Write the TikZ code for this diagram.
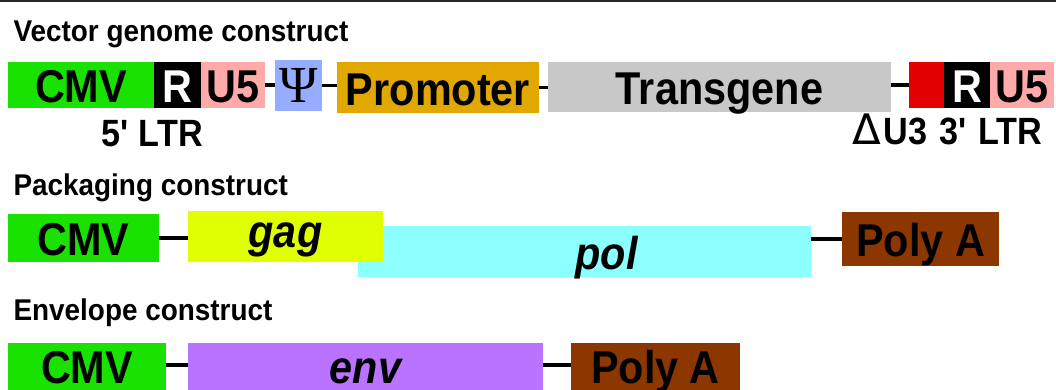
\documentclass[tikz,border=0pt]{standalone}
\usepackage{fontspec}
\setmainfont{Liberation Sans}
\newfontfamily\segsans{Liberation Sans}[FakeStretch=0.9]
\newfontfamily\headsans{Liberation Sans}[FakeStretch=0.93]
\newfontfamily\serifsym{Liberation Serif}
\newfontfamily\deltafont{DejaVu Sans}
\usepackage{tikz}
\definecolor{cmvgreen}{RGB}{26,226,0}
\definecolor{ltrpink}{RGB}{255,170,170}
\definecolor{psiblue}{RGB}{150,172,255}
\definecolor{promorange}{RGB}{224,168,0}
\definecolor{transgray}{RGB}{200,200,200}
\definecolor{ltrred}{RGB}{226,0,0}
\definecolor{gagyellow}{RGB}{224,255,0}
\definecolor{polcyan}{RGB}{140,255,255}
\definecolor{polyabrown}{RGB}{140,54,0}
\definecolor{envpurple}{RGB}{185,115,255}
\tikzset{x=1pt, y=-1pt,
    seg/.style={rectangle, inner sep=0pt, font=\segsans\fontsize{46}{46}\selectfont\bfseries,
        text height=35pt, text depth=0pt},
    gene/.style={seg, font=\segsans\fontsize{46}{46}\selectfont\bfseries\itshape},
    link/.style={draw, line width=3.5pt},
    heading/.style={anchor=base west, font=\headsans\fontsize{30}{30}\selectfont\bfseries},
    ltrlabel/.style={anchor=base, font=\segsans\fontsize{38}{38}\selectfont\bfseries}}

\begin{document}
\begin{tikzpicture}
    \useasboundingbox (0,0) rectangle (1056,389);
    \clip (0,0) rectangle (1056,389);
    \draw[line width=1.5pt, black!85] (0,0.75) -- (1056,0.75);
    % vector genome construct
    \node[heading] (vtitle) at (10,41) {Vector genome construct};
    \node[seg, fill=cmvgreen, minimum width=146, minimum height=46] (cmva) at (81,85) {CMV};
    \node[seg, fill=black, text=white, minimum width=47, minimum height=46] (ra) at (177.5,85) {R};
    \node[seg, fill=ltrpink, minimum width=64, minimum height=46] (u5a) at (233,85) {U5};
    \node[seg, fill=psiblue, minimum width=47, minimum height=51, text height=33pt, font=\serifsym\fontsize{52}{52}\selectfont] (psi) at (298.5,85.5) {Ψ};
    \node[seg, fill=promorange, minimum width=202, minimum height=51] (prom) at (438,87.5) {Promoter};
    \node[seg, fill=transgray, minimum width=343, minimum height=50] (trans) at (719.5,87) {Transgene};
    \node[seg, fill=ltrred, minimum width=35, minimum height=46] (du3) at (926.5,85) {};
    \node[seg, fill=black, text=white, minimum width=46, minimum height=46] (rb) at (967,85) {R};
    \node[seg, fill=ltrpink, minimum width=64, minimum height=46] (u5b) at (1022,85) {U5};
    \draw[link] (u5a.east) -- (u5a.east -| psi.west);
    \draw[link] (psi.east) -- (psi.east -| prom.west);
    \draw[link] (prom.east) -- (prom.east -| trans.west);
    \draw[link] (du3.west) -- (du3.west -| trans.east);
    \node[ltrlabel] (ltr5) at (152,146) {5\textquotesingle\ LTR};
    \node[ltrlabel, anchor=base east] (ltr3) at (1046,144) {{\deltafont\mdseries\fontsize{42}{42}\selectfont Δ}\hspace{3pt}U3\hspace{0.3em}3\textquotesingle\hspace{0.3em}LTR};
    % packaging construct
    \node[heading] (ptitle) at (10,195) {Packaging construct};
    \node[seg, fill=cmvgreen, minimum width=151, minimum height=48] (cmvb) at (83.5,238) {CMV};
    \node[gene, fill=polcyan, minimum width=453, minimum height=51] (pol) at (584.5,251.5) {\hspace{44pt}pol};
    \node[gene, fill=gagyellow, minimum width=195, minimum height=51, text depth=14pt] (gag) at (285.5,236.5) {gag};
    \node[seg, fill=polyabrown, minimum width=157, minimum height=54] (polyb) at (920.5,239) {Poly A};
    \draw[link] (cmvb.east) -- (cmvb.east -| gag.west);
    \draw[link] (polyb.west) -- (polyb.west -| pol.east);
    % envelope construct
    \node[heading] (etitle) at (10,320) {Envelope construct};
    \node[seg, fill=cmvgreen, minimum width=158, minimum height=54, text depth=8pt] (cmvc) at (87,370) {CMV};
    \node[gene, fill=envpurple, minimum width=355, minimum height=54, text depth=8pt] (env) at (365.5,370) {env};
    \node[seg, fill=polyabrown, minimum width=169, minimum height=54, text depth=8pt] (polyc) at (655.5,370) {Poly A};
    \draw[link] ([yshift=5pt]cmvc.east) -- ([yshift=5pt]cmvc.east -| env.west);
    \draw[link] ([yshift=5pt]env.east) -- ([yshift=5pt]env.east -| polyc.west);
\end{tikzpicture}
\end{document}
